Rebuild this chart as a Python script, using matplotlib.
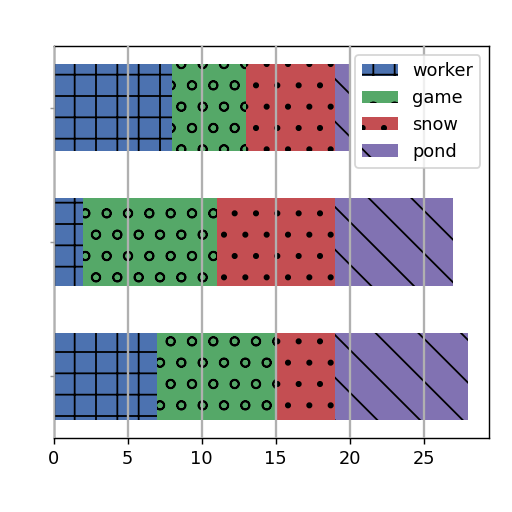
import matplotlib.pyplot as plt
import numpy as np

# bars from bottom to top
rows = ['a', 'b', 'c']
worker = [7, 2, 8]
game = [8, 9, 5]
snow = [4, 8, 6]
pond = [9, 8, 1]

series = [('worker', worker, '#4C72B0', '+'),
          ('game', game, '#55A868', 'o'),
          ('snow', snow, '#C44E52', '.'),
          ('pond', pond, '#8172B2', '\\')]

fig, ax = plt.subplots(figsize=(4, 4), dpi=128)
y = np.arange(len(rows))
left = np.zeros(len(rows))
for name, vals, color, hatch in series:
    ax.barh(y, vals, left=left, height=0.65, color=color, hatch=hatch,
            label=name, zorder=2)
    left += np.array(vals)

ax.set_yticks(y)
ax.set_yticklabels([])
ax.tick_params(axis='y', length=2, color='#999999')
ax.set_xticks([0, 5, 10, 15, 20, 25])
ax.grid(axis='x', color='#b0b0b0', linewidth=1.3, zorder=3)
ax.set_axisbelow(False)
ax.legend(loc='upper right')
plt.subplots_adjust(left=0.105, right=0.955, top=0.91, bottom=0.145)
plt.savefig('out.png')
